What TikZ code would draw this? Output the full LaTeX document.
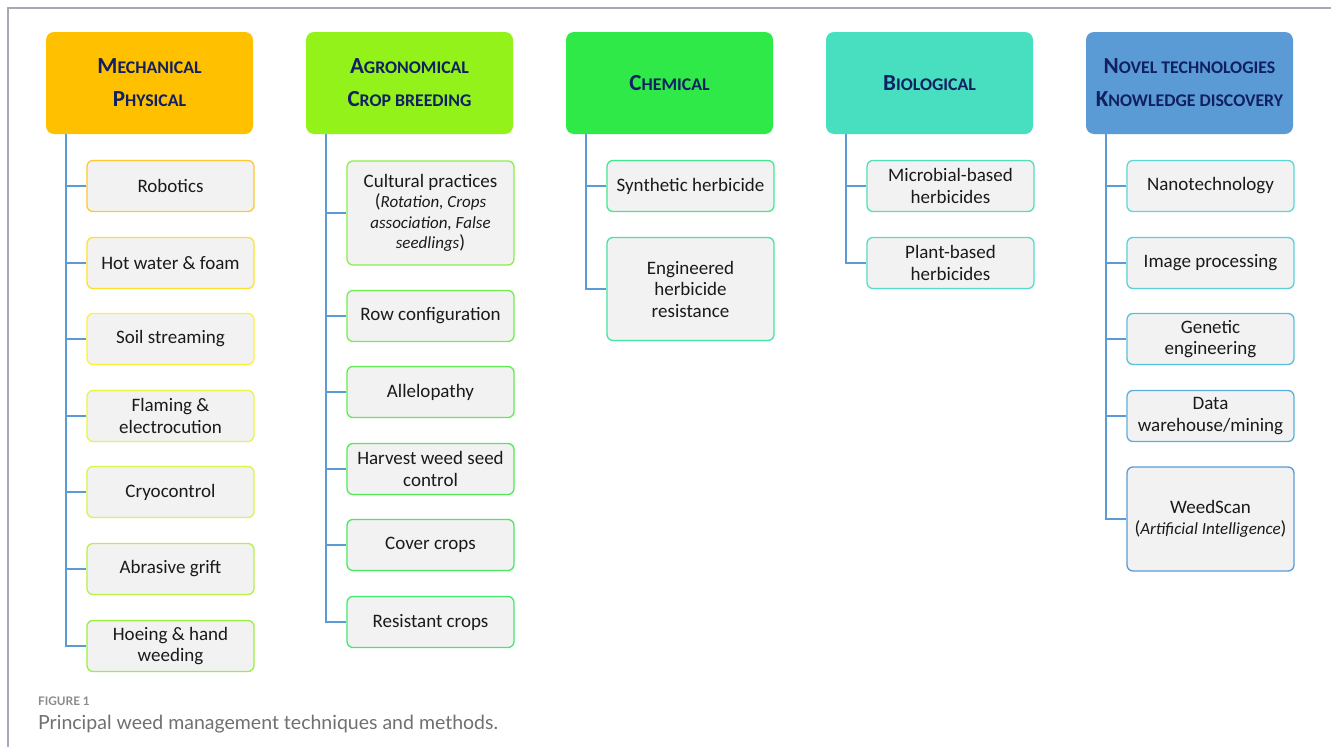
\documentclass[tikz,border=0pt]{standalone}
\usepackage{fontspec}
\setmainfont{Carlito}
\newfontfamily\capfont{Lato}
\definecolor{navy}{HTML}{102060}
\definecolor{hA}{HTML}{FFC000}
\definecolor{hB}{HTML}{92F21A}
\definecolor{hC}{HTML}{2EE948}
\definecolor{hD}{HTML}{47DFC0}
\definecolor{hE}{HTML}{5B9BD5}
\definecolor{boxfill}{HTML}{F2F2F2}
\definecolor{conncol}{HTML}{5B9BD5}
\definecolor{framecol}{HTML}{A8A8B4}
\definecolor{txt}{HTML}{1A1A1A}
\definecolor{capgray}{HTML}{8A8A8A}
\definecolor{capgrayb}{HTML}{707070}
% child borders
\definecolor{bA1}{HTML}{FFC830}
\definecolor{bA2}{HTML}{FFE030}
\definecolor{bA3}{HTML}{FFF040}
\definecolor{bA4}{HTML}{E8F548}
\definecolor{bA5}{HTML}{D8F548}
\definecolor{bA6}{HTML}{B8F048}
\definecolor{bA7}{HTML}{98F040}
\definecolor{bB1}{HTML}{88F048}
\definecolor{bB2}{HTML}{70F050}
\definecolor{bB3}{HTML}{60EC50}
\definecolor{bB4}{HTML}{50EA55}
\definecolor{bB5}{HTML}{48E860}
\definecolor{bB6}{HTML}{45E870}
\definecolor{bC1}{HTML}{40E890}
\definecolor{bC2}{HTML}{45E4A0}
\definecolor{bD1}{HTML}{50E0B8}
\definecolor{bD2}{HTML}{55DCC8}
\definecolor{bE1}{HTML}{5AD8D8}
\definecolor{bE2}{HTML}{5AD0DC}
\definecolor{bE3}{HTML}{5AC0DC}
\definecolor{bE4}{HTML}{5AB0DA}
\definecolor{bE5}{HTML}{5B9BD5}
\newcommand{\HBig}[1]{{\fontsize{23}{33}\selectfont #1}}
\newcommand{\HSm}[1]{{\fontsize{17.8}{33}\selectfont #1}}
\newcommand{\It}[1]{{\fontsize{17}{20.5}\selectfont\itshape #1}}
\tikzset{
  hdr/.style={rectangle, rounded corners=8pt, minimum width=207pt, minimum height=102pt,
    inner sep=0pt, text=navy, align=center, font=\bfseries\fontsize{18}{33}\selectfont},
  chbox/.style={rectangle, draw=#1, line width=1.3pt, fill=boxfill, rounded corners=6pt,
    minimum width=167pt, minimum height=51pt, inner sep=0pt, text=txt, align=center,
    font=\fontsize{19}{21.5}\selectfont},
  conn/.style={draw=conncol, line width=1.5pt},
}
\begin{document}
\begin{tikzpicture}[x=1pt,y=-1pt]
\useasboundingbox (0,0) rectangle (1331,747);
\fill[white] (0,0) rectangle (1331,747);
\draw[framecol, line width=1.2pt] (8,747) -- (8,8) -- (1331,8);

% headers
\node[hdr, fill=hA] (h1) at (149.5,83) {\HBig{M}\HSm{ECHANICAL}\\\HBig{P}\HSm{HYSICAL}};
\node[hdr, fill=hB] (h2) at (409.5,83) {\HBig{A}\HSm{GRONOMICAL}\\\HBig{C}\HSm{ROP BREEDING}};
\node[hdr, fill=hC] (h3) at (669.5,83) {\HBig{C}\HSm{HEMICAL}};
\node[hdr, fill=hD] (h4) at (929.5,83) {\HBig{B}\HSm{IOLOGICAL}};
\node[hdr, fill=hE] (h5) at (1189.5,83) {\HBig{N}\HSm{OVEL TECHNOLOGIES}\\\HBig{K}\HSm{NOWLEDGE DISCOVERY}};

% column 1
\node[chbox=bA1] (a1) at (170.5,186) {Robotics};
\node[chbox=bA2] (a2) at (170.5,263) {Hot water \& foam};
\node[chbox=bA3] (a3) at (170.5,339) {Soil streaming};
\node[chbox=bA4] (a4) at (170.5,416) {Flaming \&\\electrocution};
\node[chbox=bA5] (a5) at (170.5,492) {Cryocontrol};
\node[chbox=bA6] (a6) at (170.5,569) {Abrasive grift};
\node[chbox=bA7] (a7) at (170.5,646) {Hoeing \& hand\\weeding};

% column 2
\node[chbox=bB1, minimum height=104pt, font=\fontsize{19}{20.5}\selectfont] (b1) at (430.5,213)
  {Cultural practices\\(\It{Rotation, Crops}\\\It{association, False}\\\It{seedlings})};
\node[chbox=bB2] (b2) at (430.5,316) {Row configuration};
\node[chbox=bB3] (b3) at (430.5,392) {Allelopathy};
\node[chbox=bB4] (b4) at (430.5,469) {Harvest weed seed\\control};
\node[chbox=bB5] (b5) at (430.5,545) {Cover crops};
\node[chbox=bB6] (b6) at (430.5,622) {Resistant crops};

% column 3
\node[chbox=bC1] (c1) at (690.5,186) {Synthetic herbicide};
\node[chbox=bC2, minimum height=103pt] (c2) at (690.5,289) {Engineered\\herbicide\\resistance};

% column 4
\node[chbox=bD1] (d1) at (950.5,186) {Microbial-based\\herbicides};
\node[chbox=bD2] (d2) at (950.5,263) {Plant-based\\herbicides};

% column 5
\node[chbox=bE1] (e1) at (1210.5,186) {Nanotechnology};
\node[chbox=bE2] (e2) at (1210.5,263) {Image processing};
\node[chbox=bE3] (e3) at (1210.5,339) {Genetic\\engineering};
\node[chbox=bE4] (e4) at (1210.5,416) {Data\\warehouse/mining};
\node[chbox=bE5, minimum height=104pt] (e5) at (1210.5,519) {WeedScan\\(\It{Artificial Intelligence})};

% trunk coordinates
\coordinate (t1) at ([xshift=20pt]h1.south west);
\coordinate (t2) at ([xshift=20pt]h2.south west);
\coordinate (t3) at ([xshift=20pt]h3.south west);
\coordinate (t4) at ([xshift=20pt]h4.south west);
\coordinate (t5) at ([xshift=20pt]h5.south west);

\draw[conn] (t1) |- (a7.west);
\foreach \n in {a1,a2,a3,a4,a5,a6} \draw[conn] (\n.west) -- (\n.west -| t1);
\draw[conn] (t2) |- (b6.west);
\foreach \n in {b1,b2,b3,b4,b5} \draw[conn] (\n.west) -- (\n.west -| t2);
\draw[conn] (t3) |- (c2.west);
\draw[conn] (c1.west) -- (c1.west -| t3);
\draw[conn] (t4) |- (d2.west);
\draw[conn] (d1.west) -- (d1.west -| t4);
\draw[conn] (t5) |- (e5.west);
\foreach \n in {e1,e2,e3,e4} \draw[conn] (\n.west) -- (\n.west -| t5);

% caption
\node[anchor=base west, inner sep=0pt, text=capgray, font=\capfont\bfseries\fontsize{11.8}{14}\selectfont] (f1) at (38,705) {FIGURE 1};
\node[anchor=base west, inner sep=0pt, text=capgrayb, font=\capfont\fontsize{19.5}{22}\selectfont] (f2) at (38,729) {Principal weed management techniques and methods.};
\end{tikzpicture}
\end{document}
